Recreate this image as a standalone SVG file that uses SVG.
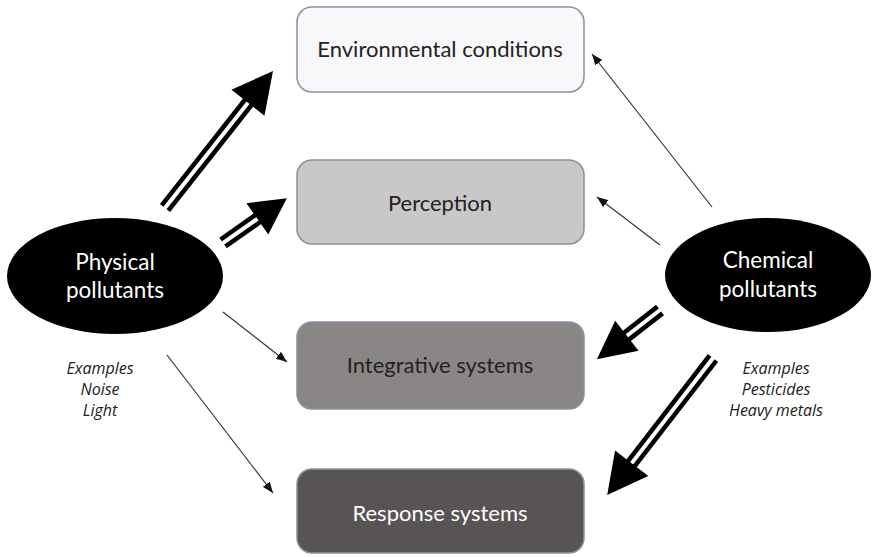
<svg xmlns="http://www.w3.org/2000/svg" width="872" height="557" viewBox="0 0 872 557">
<style>
.box{stroke:#8a90a2;stroke-width:1.5}
.lbl{font-family:Lato,"Open Sans",sans-serif;font-size:22px;text-anchor:middle;fill:#222}
.ell{font-family:Lato,"Open Sans",sans-serif;font-size:22.5px;text-anchor:middle;fill:#fff}
.ex{font-family:"Open Sans",Lato,sans-serif;font-size:16px;font-style:italic;text-anchor:middle;fill:#222}
.thin{stroke:#333;stroke-width:1.2;fill:none;marker-end:url(#ah)}
.sb{stroke:#000;stroke-width:13}
.sw{stroke:#fff;stroke-width:4}
</style>
<defs>
<marker id="ah" viewBox="0 0 10 8" refX="10" refY="4" markerWidth="11" markerHeight="9" markerUnits="userSpaceOnUse" orient="auto">
<path d="M0,0 L10,4 L0,8 Z" fill="#111"/>
</marker>
</defs>
<rect width="872" height="557" fill="#fff"/>
<g id="env"><rect class="box" x="297" y="7" width="287" height="85" rx="15" fill="#f8f8fa"/><text class="lbl" x="440" y="57">Environmental conditions</text></g>
<g id="perception"><rect class="box" x="297" y="160" width="287" height="84" rx="15" fill="#c9c7c7"/><text class="lbl" x="440" y="211">Perception</text></g>
<g id="integrative"><rect class="box" x="297" y="322" width="287" height="87" rx="15" fill="#8b8686"/><text class="lbl" x="440" y="373">Integrative systems</text></g>
<g id="response"><rect class="box" x="297" y="469" width="287" height="84" rx="15" fill="#585454"/><text class="lbl" x="440" y="521" style="fill:#fff">Response systems</text></g>
<g id="physical"><ellipse cx="115" cy="276" rx="108" ry="58" fill="#000"/><text class="ell" x="115" y="270">Physical</text><text class="ell" x="115" y="298">pollutants</text>
<text class="ex" x="100" y="374">Examples</text><text class="ex" x="100" y="395">Noise</text><text class="ex" x="100" y="416">Light</text></g>
<g id="chemical"><ellipse cx="768" cy="275" rx="103" ry="57" fill="#000"/><text class="ell" x="768" y="268">Chemical</text><text class="ell" x="768" y="297">pollutants</text>
<text class="ex" x="776" y="374">Examples</text><text class="ex" x="776" y="395">Pesticides</text><text class="ex" x="776" y="416">Heavy metals</text></g>
<g id="connectors">
<g transform="translate(165,208) rotate(-51.75)"><line class="sb" x1="0" y1="0" x2="138" y2="0"/><line class="sw" x1="-2" y1="0" x2="138" y2="0"/><polygon points="134,-21 174.5,0 134,21"/></g>
<g transform="translate(223,243) rotate(-35.1)"><line class="sb" x1="0" y1="0" x2="46" y2="0"/><line class="sw" x1="-2" y1="0" x2="46" y2="0"/><polygon points="42,-19 78,0 42,19"/></g>
<g transform="translate(660,310) rotate(142.1)"><line class="sb" x1="0" y1="0" x2="46" y2="0"/><line class="sw" x1="-2" y1="0" x2="46" y2="0"/><polygon points="42,-19 80,0 42,19"/></g>
<g transform="translate(713,358) rotate(127.7)"><line class="sb" x1="0" y1="0" x2="137" y2="0"/><line class="sw" x1="-2" y1="0" x2="137" y2="0"/><polygon points="133,-21 173,0 133,21"/></g>
<line class="thin" x1="712" y1="207" x2="592" y2="54"/>
<line class="thin" x1="660" y1="245" x2="597" y2="197"/>
<line class="thin" x1="223" y1="312" x2="287" y2="362"/>
<line class="thin" x1="167" y1="355" x2="273" y2="493"/>
</g>
</svg>
